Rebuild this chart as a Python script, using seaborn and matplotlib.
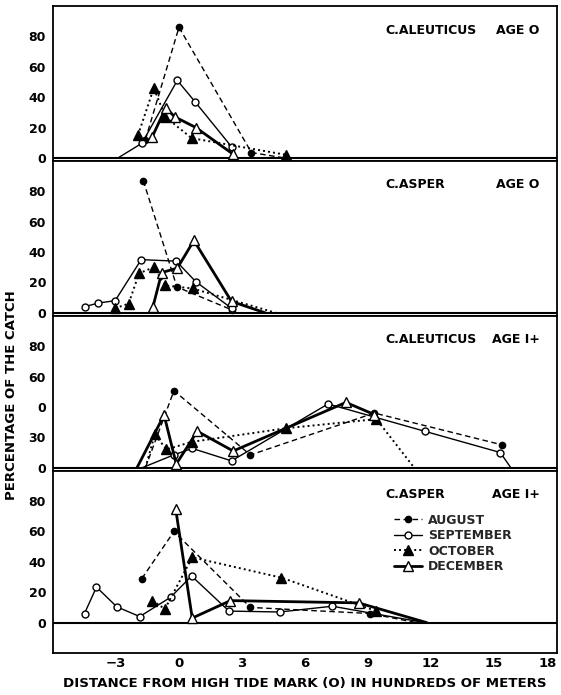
import numpy as np
import matplotlib
matplotlib.use("Agg")
import matplotlib.pyplot as plt
import seaborn as sns
from matplotlib.lines import Line2D
from matplotlib.legend_handler import HandlerLine2D
from matplotlib.transforms import offset_copy

# ---------------- data ----------------
MONTHS = ["AUGUST", "SEPTEMBER", "OCTOBER", "DECEMBER"]
PANEL_SPECIES = ["C.ALEUTICUS", "C.ASPER", "C.ALEUTICUS", "C.ASPER"]
PANEL_AGE = ["AGE O", "AGE O", "AGE I+", "AGE I+"]

# C. aleuticus age 0
AL0_AUG_X = [-1.6, 0.0, 3.45, 5.0]
AL0_AUG_Y = [12, 86, 3.5, 0]
AL0_SEP_X = [-2.9, -1.77, -0.08, 0.76, 2.52]
AL0_SEP_Y = [0, 9.6, 51, 37, 7]
AL0_OCT_X = [-1.95, -1.2, -0.65, 0.6, 5.1]
AL0_OCT_Y = [15, 46, 27, 13, 2]
AL0_DEC_X = [-1.27, -0.63, -0.2, 0.8, 2.57]
AL0_DEC_Y = [14, 33, 27, 20, 2.5]

# C. asper age 0
AS0_AUG_X = [-1.7, -0.1, 2.5]
AS0_AUG_Y = [87, 17, 2]
AS0_SEP_X = [-4.5, -3.85, -3.04, -1.8, -0.13, 0.79, 2.5]
AS0_SEP_Y = [4, 6.4, 8, 35, 34, 20.6, 3]
AS0_OCT_X = [-3.05, -2.4, -1.9, -1.2, -0.65, 0.65, 4.6]
AS0_OCT_Y = [3, 6, 26, 30, 18, 16, 0]
AS0_DEC_X = [-1.24, -0.82, -0.08, 0.71, 2.5, 4.1]
AS0_DEC_Y = [4, 26.5, 29.4, 47.6, 7.5, 0]

# C. aleuticus age 1+
AL1_AUG_X = [-1.6, -0.24, 3.4, 9.3, 15.4]
AL1_AUG_Y = [0, 50.7, 8.4, 36, 15]
AL1_SEP_X = [-1.75, -0.24, 0.63, 2.5, 7.1, 11.7, 15.3, 15.8]
AL1_SEP_Y = [0, 8.5, 12.7, 4.5, 42, 24, 10, 0]
AL1_OCT_X = [-1.6, -1.15, -0.6, 0.6, 5.1, 9.4, 11.2]
AL1_OCT_Y = [0, 22, 12, 17, 26, 32, 0]
AL1_DEC_X = [-2.0, -0.71, -0.13, 0.87, 2.58, 7.95, 9.3]
AL1_DEC_Y = [0, 34.7, 2.4, 24, 11, 43, 35]

# C. asper age 1+
AS1_AUG_X = [-1.77, -0.24, 3.4, 9.1, 11.3]
AS1_AUG_Y = [29, 60, 10, 6, 0]
AS1_SEP_X = [-4.5, -3.93, -2.96, -1.87, -0.4, 0.6, 2.38, 4.79, 7.3, 11.7]
AS1_SEP_Y = [6, 23.4, 10.4, 4, 16.7, 30.7, 7.6, 7, 10.8, 0]
AS1_OCT_X = [-1.27, -0.67, 0.63, 4.88, 9.4]
AS1_OCT_Y = [14.5, 9, 43, 29.6, 7.6]
AS1_DEC_X = [-0.16, 0.63, 2.45, 8.55, 11.8]
AS1_DEC_Y = [75, 3, 14.5, 13, 0]

X_TICKS = [-3, 0, 3, 6, 9, 12, 15, 18]
Y_TICKS = [0, 20, 40, 60, 80]
Y_TICKLABELS = [["0", "20", "40", "60", "80"],
                ["0", "20", "40", "60", "80"],
                ["0", "30", "0", "60", "80"],
                ["0", "20", "40", "60", "80"]]
X_LABEL = "DISTANCE FROM HIGH TIDE MARK (O) IN HUNDREDS OF METERS"
Y_LABEL = "PERCENTAGE OF THE CATCH"

PANELS = [
    [(AL0_AUG_X, AL0_AUG_Y), (AL0_SEP_X, AL0_SEP_Y), (AL0_OCT_X, AL0_OCT_Y), (AL0_DEC_X, AL0_DEC_Y)],
    [(AS0_AUG_X, AS0_AUG_Y), (AS0_SEP_X, AS0_SEP_Y), (AS0_OCT_X, AS0_OCT_Y), (AS0_DEC_X, AS0_DEC_Y)],
    [(AL1_AUG_X, AL1_AUG_Y), (AL1_SEP_X, AL1_SEP_Y), (AL1_OCT_X, AL1_OCT_Y), (AL1_DEC_X, AL1_DEC_Y)],
    [(AS1_AUG_X, AS1_AUG_Y), (AS1_SEP_X, AS1_SEP_Y), (AS1_OCT_X, AS1_OCT_Y), (AS1_DEC_X, AS1_DEC_Y)],
]

# ---------------- styles ----------------
STYLES = {
    "AUGUST":    dict(ls=(0, (4, 2.5)), lw=1.0, marker="o", mfc="black", ms=4.5),
    "SEPTEMBER": dict(ls="-", lw=1.0, marker="o", mfc="white", ms=5),
    "OCTOBER":   dict(ls=(0, (1, 1.6)), lw=1.4, marker="^", mfc="black", ms=7),
    "DECEMBER":  dict(ls="-", lw=2.0, marker="^", mfc="white", ms=7.5),
}

sns.set_theme(style="white")
plt.rcParams["font.family"] = ["DejaVu Sans"]
plt.rcParams["axes.linewidth"] = 1.3

fig = plt.figure(figsize=(5.61, 6.95), dpi=100)
gs = fig.add_gridspec(4, 1, height_ratios=[102, 102, 102, 120],
                      left=53 / 561, right=557 / 561,
                      top=1 - 6 / 695, bottom=1 - 653 / 695, hspace=0)

axes = []
for i in range(4):
    ax = fig.add_subplot(gs[i])
    axes.append(ax)
    for (xs, ys), month in zip(PANELS[i], MONTHS):
        st = STYLES[month]
        mark_idx = [k for k, v in enumerate(ys) if v > 0]
        sns.lineplot(x=xs, y=ys, ax=ax, sort=False, estimator=None,
                     color="black", linestyle=st["ls"], linewidth=st["lw"],
                     marker=st["marker"], markersize=st["ms"],
                     markerfacecolor=st["mfc"], markeredgecolor="black",
                     markeredgewidth=1.0, markevery=mark_idx,
                     legend=False, zorder=3)
    ax.axhline(0, color="black", lw=1.5, zorder=2)
    ax.set_xlim(-6, 18)
    ax.set_ylim(-20 if i == 3 else -2, 100)
    ax.set_yticks(Y_TICKS)
    ax.set_yticklabels(Y_TICKLABELS[i], fontsize=9, fontweight="bold")
    ax.set_xticks(X_TICKS)
    for sp in ax.spines.values():
        sp.set_color("black")
        sp.set_linewidth(1.3)
    ax.tick_params(axis="y", direction="in", length=5, width=1, pad=5, colors="black")
    if i < 3:
        ax.tick_params(axis="x", length=0, labelbottom=False)
    else:
        ax.set_xticklabels([str(t).replace("-", "\u2212") for t in X_TICKS],
                           fontsize=9.5, fontweight="bold")
        ax.tick_params(axis="x", direction="in", length=5, width=1, pad=3, colors="black")
        last = ax.get_xticklabels()[-1]
        last.set_horizontalalignment("right")
    ax.set_xlabel("")
    ax.set_ylabel("")
    tr = offset_copy(ax.transAxes, fig=fig, x=0, y=-24, units="dots")
    ax.text(0.66, 1.0, PANEL_SPECIES[i], transform=tr, ha="left", va="center",
            fontsize=9, fontweight="bold", color="black")
    ax.text(0.966, 1.0, PANEL_AGE[i], transform=tr, ha="right", va="center",
            fontsize=9, fontweight="bold", color="black")


class LeftMarkerHandler(HandlerLine2D):
    def get_xdata(self, legend, xdescent, ydescent, width, height, fontsize):
        xdata = np.array([-xdescent, -xdescent + width])
        return xdata, np.array([-xdescent + 2])


handles = []
for month in MONTHS:
    st = STYLES[month]
    handles.append(Line2D([], [], color="black", linestyle=st["ls"], linewidth=st["lw"],
                          marker=st["marker"], markersize=st["ms"],
                          markerfacecolor=st["mfc"], markeredgecolor="black",
                          markeredgewidth=1.0))
leg = axes[3].legend(handles, MONTHS, loc="upper left", bbox_to_anchor=(0.676, 0.765),
                     frameon=False, handlelength=2.3, handletextpad=0.45,
                     labelspacing=0.2, borderpad=0, borderaxespad=0,
                     handler_map={Line2D: LeftMarkerHandler()},
                     prop=dict(size=9, weight="bold"))

fig.text(305 / 561, 1 - 683 / 695, X_LABEL, ha="center", va="center",
         fontsize=9.6, fontweight="bold", color="black")
fig.text(12 / 561, 1 - 395 / 695, Y_LABEL, ha="center", va="center", rotation=90,
         fontsize=9.5, fontweight="bold", color="black")

fig.savefig("out.png", dpi=100, facecolor="white")
